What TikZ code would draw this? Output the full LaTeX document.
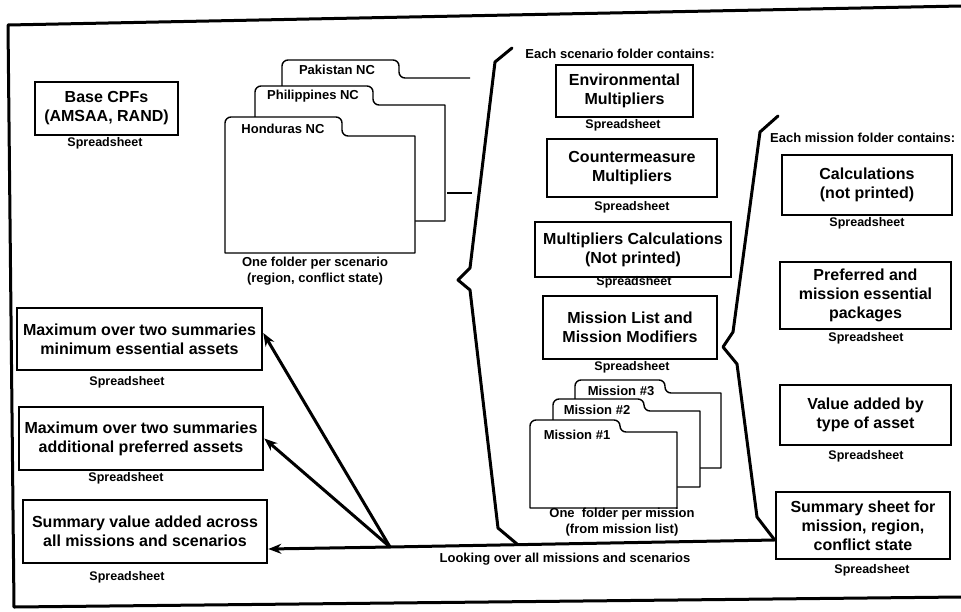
\documentclass[tikz,border=0pt]{standalone}
\usepackage{fontspec}
\setmainfont{Liberation Sans}
\usetikzlibrary{arrows.meta}
\newcommand\myfolder[6]{%
  \draw[fold] (#1,#6) [rounded corners=6pt] -- (#1,#3) -- (#2,#3) -- (#2,#4) [sharp corners] -- (#5,#4) -- (#5,#6) -- cycle;}
\begin{document}
\begin{tikzpicture}[x=1pt,y=-1pt,
  box/.style={draw, line width=2.6pt, inner sep=0pt, align=center, font=\bfseries\fontsize{16}{19}\selectfont},
  wh/.style 2 args={minimum width=#1pt, minimum height=#2pt},
  sheet/.style={font=\bfseries\fontsize{12.5}{14}\selectfont, inner sep=0pt},
  note/.style={font=\bfseries\fontsize{13}{16}\selectfont, inner sep=0pt, align=center},
  tabtxt/.style={font=\bfseries\fontsize{13}{15}\selectfont, inner sep=0pt},
  fold/.style={draw, fill=white, line width=1.4pt, line join=round},
  brace/.style={line width=3pt, line join=round, line cap=round},
  arr/.style={line width=3pt, -{Stealth[length=13pt,width=10pt]}},
  frame/.style={line width=3pt, line join=round}
]
\useasboundingbox (0,0) rectangle (961,611);
% frame
\draw[frame] (961,6) -- (8,25) -- (14,607) -- (961,597);

% left column
\node[box, wh={143}{53}] (base) at (106.5,108.5) {Base CPFs\\(AMSAA, RAND)};
\node[sheet] (baseS) at (105,143) {Spreadsheet};
\node[box, wh={245}{62}] (max1) at (139.5,339) {Maximum over two summaries\\minimum essential assets};
\node[sheet] (max1S) at (127,382) {Spreadsheet};
\node[box, wh={244}{63}] (max2) at (141,438.5) {Maximum over two summaries\\additional preferred assets};
\node[sheet] (max2S) at (126,478) {Spreadsheet};
\node[box, wh={244}{63}] (sum3) at (145,531.5) {Summary value added across\\all missions and scenarios};
\node[sheet] (sum3S) at (127,577) {Spreadsheet};

% scenario folders
\draw[fold, fill=none] (282,110) [rounded corners=6pt] -- (282,60) -- (399,60) -- (399,78) [sharp corners] -- (470,78);
\draw[fold] (447,193) -- (472,193);
\node[tabtxt] (pak) at (337,70) {Pakistan NC};
\myfolder{255}{373}{86}{105}{445}{221}
\node[tabtxt] (phi) at (313,96) {Philippines NC};
\myfolder{225}{342}{117}{136}{415}{253}
\node[tabtxt] (hon) at (283,129) {Honduras NC};
\node[note] (scnote) at (315,271) {One folder per scenario\\(region, conflict state)};

% scenario folder contents
\node[note] (sctitle) at (620,54) {Each scenario folder contains:};
\node[box, wh={137}{52}] (env) at (624.5,91) {Environmental\\Multipliers};
\node[sheet] (envS) at (623,125) {Spreadsheet};
\node[box, wh={170}{58}] (cm) at (632,168) {Countermeasure\\Multipliers};
\node[sheet] (cmS) at (632,207) {Spreadsheet};
\node[box, wh={196}{55}] (mc) at (633,249.5) {Multipliers Calculations\\(Not printed)};
\node[sheet] (mcS) at (634,282) {Spreadsheet};
\node[box, wh={174}{63}] (ml) at (630,327.5) {Mission List and\\Mission Modifiers};
\node[sheet] (mlS) at (632,367) {Spreadsheet};

% mission folders
\myfolder{575}{665}{380}{393}{721}{468}
\node[tabtxt] (m3) at (621,391) {Mission \#3};
\myfolder{553}{644}{399}{411}{700}{487}
\node[tabtxt] (m2) at (597,410) {Mission \#2};
\myfolder{530}{620}{420}{432}{677}{508}
\node[tabtxt] (m1) at (577,435) {Mission \#1};
\node[note] (mnote) at (622,522) {One\ \ folder per mission\\(from mission list)};

% mission folder contents
\node[note, anchor=west] (mtitle) at (770,138) {Each mission folder contains:};
\node[box, wh={170}{60}] (calc) at (867,185) {Calculations\\(not printed)};
\node[sheet] (calcS) at (867,223) {Spreadsheet};
\node[box, wh={171}{67}] (pref) at (865.5,295.5) {Preferred and\\mission essential\\packages};
\node[sheet] (prefS) at (866,338) {Spreadsheet};
\node[box, wh={171}{60}] (val) at (865.5,415) {Value added by\\type of asset};
\node[sheet] (valS) at (866,456) {Spreadsheet};
\node[box, wh={174}{67}] (summ) at (863,525.5) {Summary sheet for\\mission, region,\\conflict state};
\node[sheet] (summS) at (872,570) {Spreadsheet};

% connectors
\coordinate (hub) at (390,547);
\coordinate (inS) at ([yshift=-14.5pt]summ.west);
\draw[brace] (512,48) -- (495,62) -- (470,268) -- (458,280) -- (470,290) -- (498,528) -- (517,544);
\draw[brace] (778,116) -- (760,132) -- (733,332) -- (723,347) -- (737,364) -- (757,517) -- (inS);
\draw[arr] (inS) -- (hub) -- ([yshift=-17.5pt]sum3.east);
\draw[arr] (hub) -- ([yshift=6pt]max1.east);
\draw[arr] (hub) -- (max2.east);
\node[note] (look) at (565,559) {Looking over all missions and scenarios};
\end{tikzpicture}
\end{document}
